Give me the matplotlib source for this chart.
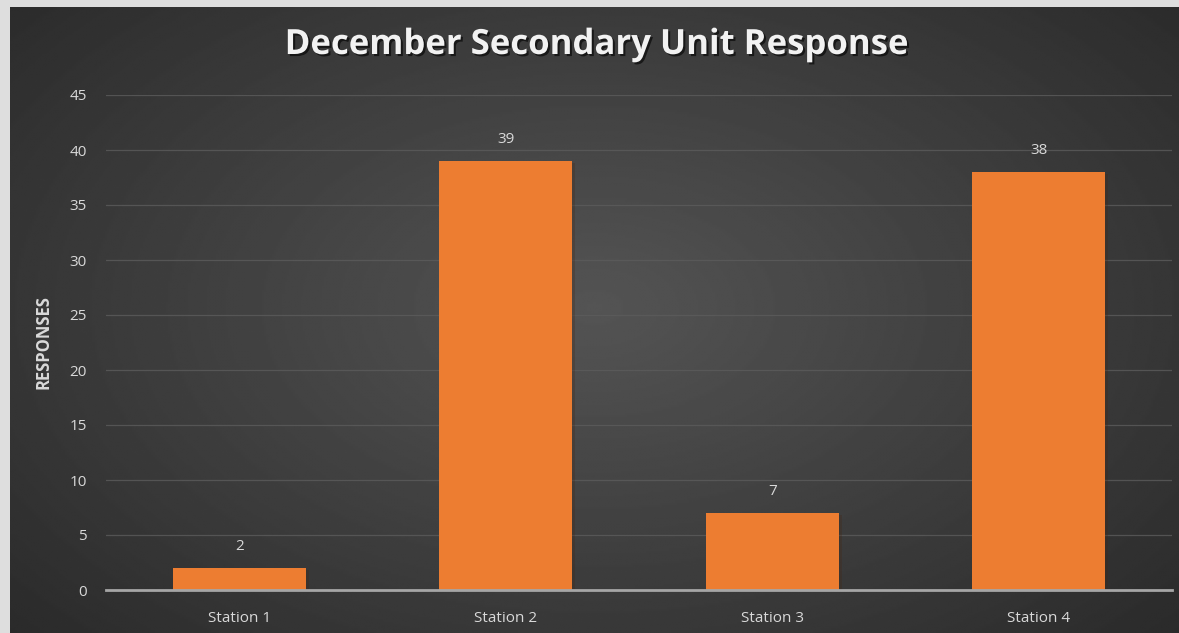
import numpy as np
import matplotlib.pyplot as plt
import matplotlib.patheffects as pe

stations = ['Station 1', 'Station 2', 'Station 3', 'Station 4']
responses = [2, 39, 7, 38]
y_ticks = [0, 5, 10, 15, 20, 25, 30, 35, 40, 45]

BAR_COLOR = '#ED7D31'
TEXT_COLOR = '#D9D9D9'
plt.rcParams['font.family'] = ['Open Sans', 'DejaVu Sans']


def main():
    fig = plt.figure(figsize=(11.79, 6.33), dpi=100, facecolor='#dedede')

    # dark panel with a soft radial light in the middle
    bg = fig.add_axes([10 / 1179, 0, 1169 / 1179, 626 / 633])
    yy, xx = np.mgrid[0:1:300j, 0:1:560j]
    r = np.sqrt(((xx - 0.5) / 0.75) ** 2 + ((yy - 0.48) / 0.85) ** 2)
    shade = np.clip(0.33 - 0.18 * r, 0.15, 0.33)
    bg.imshow(shade, cmap='gray', vmin=0, vmax=1, aspect='auto',
              extent=[0, 1, 0, 1], interpolation='bilinear')
    bg.set_axis_off()

    ax = fig.add_axes([106 / 1179, 1 - 590 / 633, 1066 / 1179, 495 / 633])
    ax.patch.set_alpha(0)
    x = np.arange(len(stations))
    shadow = [pe.SimplePatchShadow(offset=(2, -1.5), alpha=0.25), pe.Normal()]
    bars = ax.bar(x, responses, width=0.5, color=BAR_COLOR, zorder=3)
    for b in bars:
        b.set_path_effects(shadow)
    for xi, v in zip(x, responses):
        ax.annotate(str(v), (xi, v), xytext=(0, 10), textcoords='offset points',
                    ha='center', va='bottom', color=TEXT_COLOR, fontsize=11)

    ax.set_xlim(-0.5, len(stations) - 0.5)
    ax.set_ylim(0, 45)
    ax.set_yticks(y_ticks)
    ax.set_xticks(x)
    ax.set_xticklabels(stations)
    ax.grid(axis='y', color='#5c5c5c', linewidth=0.9, alpha=0.8, zorder=0)
    ax.tick_params(axis='both', length=0, colors=TEXT_COLOR, labelsize=11)
    ax.tick_params(axis='y', pad=14)
    ax.tick_params(axis='x', pad=15)
    for side in ['top', 'right', 'left']:
        ax.spines[side].set_visible(False)
    ax.spines['bottom'].set_color('#a6a6a6')
    ax.spines['bottom'].set_linewidth(2)
    ax.spines['bottom'].set_zorder(4)

    ax.set_ylabel('RESPONSES', color=TEXT_COLOR, fontsize=12, fontweight='bold')
    ax.yaxis.set_label_coords(-0.05, 0.5)

    fig.text(0.506, 1 - 45 / 633, 'December Secondary Unit Response', ha='center',
             va='center', color='#f2f2f2', fontsize=25, fontweight='bold',
             path_effects=[pe.withSimplePatchShadow(offset=(1.5, -1.5), alpha=0.6,
                                                    shadow_rgbFace='black')])

    fig.savefig('out.png', dpi=100, facecolor=fig.get_facecolor())


if __name__ == "__main__":
    main()
